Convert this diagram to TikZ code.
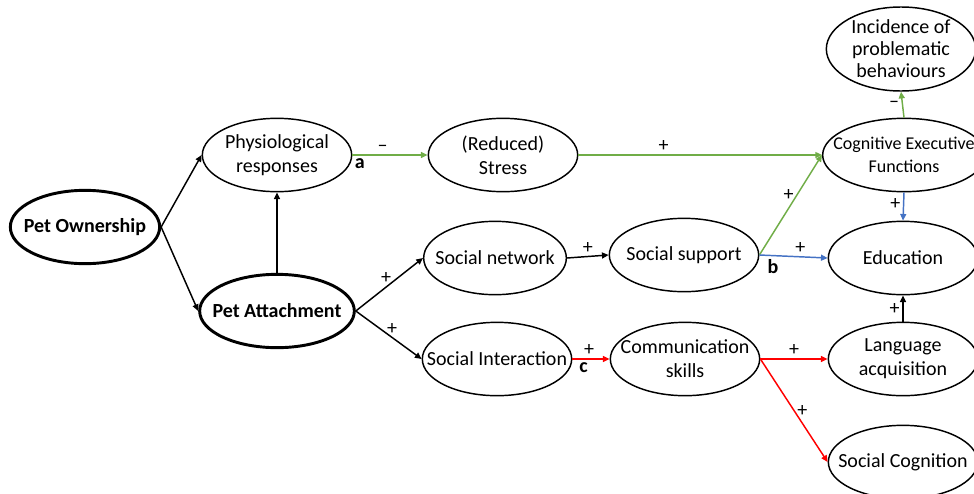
\documentclass[tikz,border=0pt]{standalone}
\usepackage{fontspec}
\setmainfont{Carlito}
\usetikzlibrary{arrows.meta,shapes.geometric}

\definecolor{pathgreen}{RGB}{112,173,71}
\definecolor{pathblue}{RGB}{68,114,196}
\definecolor{pathred}{RGB}{255,0,0}

\begin{document}
\begin{tikzpicture}[x=0.75pt,y=-0.75pt,
    font=\fontsize{15}{18}\selectfont,
    factor/.style={draw,ellipse,line width=1.1pt,inner xsep=-25pt,inner ysep=-6pt,
        align=center,minimum width=112pt,minimum height=55pt},
    keyfactor/.style={factor,line width=2.2pt},
    link/.style={line width=1.1pt,-{Triangle[length=5pt,width=4.5pt]}},
    sign/.style={inner sep=2pt},
    pathtag/.style={inner sep=2pt,font=\fontsize{15}{18}\selectfont\bfseries}]

% 1. Fix the frame of the picture
\useasboundingbox (0,0) rectangle (974,493);

% 2. Nodes (left to right)
\node[keyfactor] (own) at (85,227) {\textbf{Pet Ownership}};
\node[factor] (phys) at (277,155) {Physiological\\responses};
\node[keyfactor,minimum width=116pt] (att) at (277,311) {\textbf{Pet Attachment}};

\node[factor] (stress) at (503,155) {(Reduced)\\Stress};
\node[factor,minimum width=107pt] (net) at (495,258) {Social network};
\node[factor] (sint) at (497,359) {Social Interaction};

\node[factor] (supp) at (684,255) {Social support};
\node[factor] (comm) at (685,359) {Communication\\skills};

\node[factor,minimum height=63pt,font=\fontsize{15}{16.5}\selectfont] (probl) at (901,49)
    {Incidence of\\problematic\\behaviours};
\node[factor,minimum width=122pt,font=\fontsize{13.5}{17}\selectfont] (cef) at (904,155)
    {Cognitive Executive\\Functions};
\node[factor] (edu) at (903,258) {Education};
\node[factor] (lang) at (903,359) {Language\\acquisition};
\node[factor] (scog) at (903,462) {Social Cognition};

% 3. Black connectors
\draw[link] (own.east) -- (phys.west);
\draw[link] (own.east) -- (att.west);
\draw[link] (att.north) -- (phys.south);
\draw[link] (att.east) -- node[sign,pos=0.45,above] {+} (net.west);
\draw[link] (att.east) -- node[sign,pos=0.55,above] {+} (sint.west);
\draw[link] (net.east) -- node[sign,pos=0.5,above] {+} (supp.west);
\draw[link] (lang.north) -- node[sign,pos=0.5,left] {+} (edu.south);

% 4. Path a (green)
\draw[link,pathgreen] (phys.east) -- node[sign,pos=0.4,above,black] {–}
    node[pathtag,pos=0.1,below,black] {a} (stress.west);
\draw[link,pathgreen] (stress.east) -- node[sign,pos=0.35,above,black] {+} (cef.west);
\draw[link,pathgreen] (supp.east) -- node[sign,pos=0.6,left,black] {+} (cef.west);
\draw[link,pathgreen] (cef.north) -- node[sign,pos=0.5,left,black] {–} (probl.south);

% 5. Path b (blue)
\draw[link,pathblue] (supp.east) -- node[sign,pos=0.6,above,black] {+}
    node[pathtag,pos=0.2,below,black] {b} (edu.west);
\draw[link,pathblue] (cef.south) -- node[sign,pos=0.4,left,black] {+} (edu.north);

% 6. Path c (red)
\draw[link,pathred] (sint.east) -- node[sign,pos=0.45,above,black] {+}
    node[pathtag,pos=0.3,below,black] {c} (comm.west);
\draw[link,pathred] (comm.east) -- node[sign,pos=0.5,above,black] {+} (lang.west);
\draw[link,pathred] (comm.east) -- node[sign,pos=0.5,right,black] {+} (scog.west);

\end{tikzpicture}
\end{document}
